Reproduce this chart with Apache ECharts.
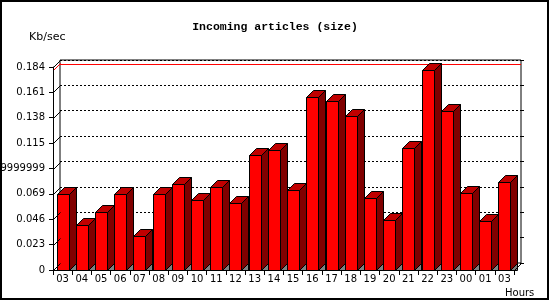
<!DOCTYPE html>
<html><head><meta charset="utf-8">
<script src="https://cdn.jsdelivr.net/npm/echarts@6/dist/echarts.min.js"></script>
<style>html,body{margin:0;padding:0;background:#fff}#c{width:550px;height:300px}</style>
</head><body><div id="c"></div>
<script>
const hours = ['03','04','05','06','07','08','09','10','11','12','13','14','15','16','17','18','19','20','21','22','23','00','01','03'];
const sizeKbSec = [0.069,0.041,0.0525,0.0688,0.031,0.0688,0.078,0.0634,0.075,0.0606,0.104,0.109,0.0725,0.157,0.1534,0.1397,0.0652,0.0452,0.1106,0.181,0.1443,0.0697,0.0443,0.0797];
const yTickValues = [0,0.023,0.046,0.069,0.092,0.115,0.138,0.161,0.184];
const yTickLabels = ['0','0.023','0.046','0.069','0.0919999999','0.115','0.138','0.161','0.184'];
const titleText = 'Incoming articles (size)';
const yUnit = 'Kb/sec';
const xUnit = 'Hours';

const DX = 7, DY = 7;
const maxVal = Math.max(...sizeKbSec);
const crisp = v => Math.round(v) + 0.5;
const chart = echarts.init(document.getElementById('c'), null, {renderer: 'canvas'});

function barItem(params, api) {
  const i = api.value(0), v = api.value(1);
  const base = api.coord([i, 0]);
  const top = api.coord([i, v]);
  const l = crisp(base[0] - 6), r = l + 12;
  const t = crisp(top[1]), b = crisp(base[1]);
  const st = {stroke: '#000', lineWidth: 1};
  return {type: 'group', children: [
    {type: 'polygon', shape: {points: [[r, b], [r + DX, b - DY], [r + DX, b]]}, style: Object.assign({fill: '#808080'}, st)},
    {type: 'rect', shape: {x: l, y: t, width: 12, height: b - t}, style: Object.assign({fill: '#ff0000'}, st)},
    {type: 'polygon', shape: {points: [[l, t], [r, t], [r + DX, t - DY], [l + DX, t - DY]]}, style: Object.assign({fill: '#c00000'}, st)},
    {type: 'polygon', shape: {points: [[r, t], [r + DX, t - DY], [r + DX, b - DY], [r, b]]}, style: Object.assign({fill: '#800000'}, st)}
  ]};
}

function frameItem(params, api) {
  const cs = params.coordSys;
  const v = api.value(1);
  const y = crisp(api.coord([0, v])[1]);
  const x0 = crisp(cs.x), x1 = crisp(cs.x + cs.width);
  const children = [{type: 'line', shape: {x1: x0, y1: y, x2: x0 + DX, y2: y - DY}, style: {stroke: '#000', lineWidth: 1}}];
  if (v === 0) children.push({type: 'line', shape: {x1: x1, y1: y, x2: x1 + DX, y2: y - DY}, style: {stroke: '#000', lineWidth: 1}});
  return {type: 'group', children};
}

function maxDiagItem(params, api) {
  const cs = params.coordSys;
  const y = crisp(api.coord([0, api.value(1)])[1]);
  const x0 = crisp(cs.x);
  return {type: 'line', shape: {x1: x0, y1: y, x2: x0 + DX, y2: y - DY}, style: {stroke: '#ff0000', lineWidth: 1}};
}

const yCommon = {type: 'value', min: 0, max: 0.184, interval: 0.023};

chart.setOption({
  animation: false,
  backgroundColor: '#fff',
  grid: [
    {left: 53, top: 67, width: 461, height: 203, show: false, containLabel: false, outerBoundsMode: 'none'},
    {left: 60, top: 60, width: 461, height: 203, show: true, borderColor: '#000', borderWidth: 1, backgroundColor: 'transparent', containLabel: false, outerBoundsMode: 'none'}
  ],
  xAxis: [
    {type: 'category', gridIndex: 0, data: hours, boundaryGap: true, z: 10,
     axisLine: {show: true, lineStyle: {color: '#000', width: 1}},
     axisTick: {show: true, length: 5, lineStyle: {color: '#000'}},
     axisLabel: {interval: 0, margin: 4, color: '#000', fontFamily: 'DejaVu Sans', fontSize: 10, hideOverlap: false},
     splitLine: {show: false}},
    {type: 'category', gridIndex: 1, data: hours, boundaryGap: true, show: false}
  ],
  yAxis: [
    Object.assign({gridIndex: 0, z: 10,
     axisLine: {show: true, lineStyle: {color: '#000', width: 1}},
     axisTick: {show: true, length: 4, lineStyle: {color: '#000'}},
     axisLabel: {margin: 8, color: '#000', fontFamily: 'DejaVu Sans', fontSize: 10,
       formatter: (val, idx) => (yTickLabels[idx] !== undefined ? yTickLabels[idx] : String(val))},
     splitLine: {show: false}}, yCommon),
    Object.assign({gridIndex: 1,
     axisLine: {show: false}, axisTick: {show: false}, axisLabel: {show: false},
     splitLine: {show: true, lineStyle: {color: '#000', width: 1, type: [2, 2]}}}, yCommon),
    Object.assign({gridIndex: 1, position: 'right',
     axisLine: {show: false}, axisTick: {show: true, length: 3, lineStyle: {color: '#000'}}, axisLabel: {show: false},
     splitLine: {show: false}}, yCommon)
  ],
  series: [
    {type: 'line', xAxisIndex: 1, yAxisIndex: 1, z: 3, silent: true, data: [],
     markLine: {silent: true, symbol: 'none', animation: false, label: {show: false},
       lineStyle: {color: '#ff0000', width: 1, type: 'solid'},
       data: [{yAxis: maxVal}]}},
    {type: 'custom', xAxisIndex: 0, yAxisIndex: 0, z: 3, clip: false, silent: true,
     renderItem: maxDiagItem, data: [[0, maxVal]]},
    {type: 'custom', xAxisIndex: 0, yAxisIndex: 0, z: 5, clip: false, silent: true,
     renderItem: barItem, data: sizeKbSec.map((v, i) => [i, v])},
    {type: 'custom', xAxisIndex: 0, yAxisIndex: 0, z: 6, clip: false, silent: true,
     renderItem: frameItem, data: yTickValues.map(v => [0, v])}
  ],
  graphic: [
    {type: 'rect', z: 100, shape: {x: 1, y: 1, width: 547, height: 298}, style: {fill: null, stroke: '#000', lineWidth: 2}},
    {type: 'text', x: 275, y: 27, style: {text: titleText, font: 'bold 11.5px "Liberation Mono"', fill: '#000', align: 'center', verticalAlign: 'middle'}},
    {type: 'text', x: 29, y: 37, style: {text: yUnit, font: '11px "DejaVu Sans"', fill: '#000', align: 'left', verticalAlign: 'middle'}},
    {type: 'text', x: 505, y: 293, style: {text: xUnit, font: '10px "DejaVu Sans"', fill: '#000', align: 'left', verticalAlign: 'middle'}}
  ]
});
</script></body></html>
